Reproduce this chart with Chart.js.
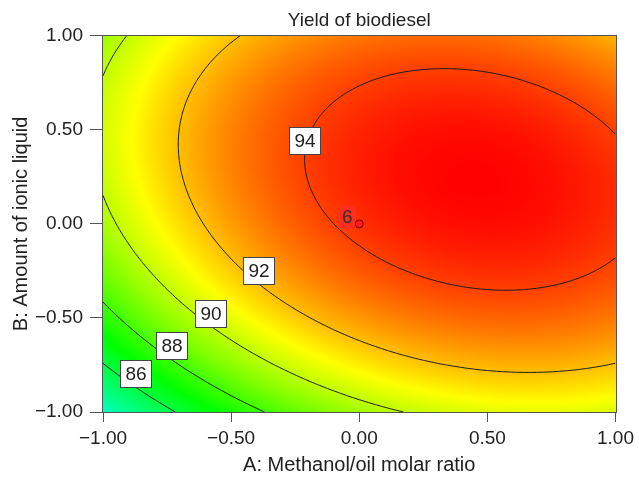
<!DOCTYPE html>
<html>
<head>
<meta charset="utf-8">
<script src="https://cdn.jsdelivr.net/npm/chart.js@4.4.1/dist/chart.umd.min.js"></script>
<style>
  html, body { margin: 0; background: #fff; }
</style>
</head>
<body>
<canvas id="rsm" width="639" height="483"></canvas>
<script>
/* ---- Data: quadratic model of yield (coded factors A, B) ---- */
const TERMS       = ['Intercept', 'A', 'B', 'AB', 'A²', 'B²'];
const COEFS       = [94.25, 2.30, 1.81, -0.94, -2.30, -2.93];
const LEVELS      = [86, 88, 90, 92, 94];
const AXIS_TICKS  = [-1, -0.5, 0, 0.5, 1];
const DESIGN_A    = [0];
const DESIGN_B    = [0];
const DESIGN_REPS = [6];

/* where each contour label sits (coded units) */
const LABEL_A = [-0.87, -0.73, -0.58, -0.39, -0.21];
const LABEL_B = [-0.80, -0.65, -0.48, -0.25, 0.44];

/* colour ramp: value -> rgb */
const RAMP_VAL = [83, 87, 91, 95];
const RAMP_RGB = [[0, 255, 255], [0, 255, 0], [255, 255, 0], [255, 0, 0]];

const FONT = 'Liberation Sans, Arial, Helvetica, sans-serif';
const INK  = '#222';

function yieldAt(a, b) {
  const [b0, bA, bB, bAB, bAA, bBB] = COEFS;
  return b0 + bA * a + bB * b + bAB * a * b + bAA * a * a + bBB * b * b;
}

function rampColor(v) {
  if (v <= RAMP_VAL[0]) return RAMP_RGB[0];
  for (let i = 1; i < RAMP_VAL.length; i++) {
    if (v <= RAMP_VAL[i]) {
      const t = (v - RAMP_VAL[i - 1]) / (RAMP_VAL[i] - RAMP_VAL[i - 1]);
      const c0 = RAMP_RGB[i - 1], c1 = RAMP_RGB[i];
      return [0, 1, 2].map(k => c0[k] + (c1[k] - c0[k]) * t);
    }
  }
  return RAMP_RGB[RAMP_RGB.length - 1];
}

const fmtTick = v => Number(v).toFixed(2).replace('-', '\u2212');

/* ---- marching squares, in data space ---- */
function contourSegments(level, nx, ny) {
  const gx = i => -1 + 2 * i / nx;
  const gy = j => -1 + 2 * j / ny;
  const val = [];
  for (let j = 0; j <= ny; j++) {
    val.push([]);
    for (let i = 0; i <= nx; i++) val[j].push(yieldAt(gx(i), gy(j)));
  }
  const segs = [];
  for (let j = 0; j < ny; j++) {
    for (let i = 0; i < nx; i++) {
      const c = [
        [gx(i), gy(j), val[j][i]],
        [gx(i + 1), gy(j), val[j][i + 1]],
        [gx(i + 1), gy(j + 1), val[j + 1][i + 1]],
        [gx(i), gy(j + 1), val[j + 1][i]]
      ];
      const pts = [];
      for (let e = 0; e < 4; e++) {
        const p = c[e], q = c[(e + 1) % 4];
        if ((p[2] - level) * (q[2] - level) < 0) {
          const t = (level - p[2]) / (q[2] - p[2]);
          pts.push([p[0] + (q[0] - p[0]) * t, p[1] + (q[1] - p[1]) * t]);
        }
      }
      if (pts.length >= 2) segs.push([pts[0], pts[1]]);
      if (pts.length === 4) segs.push([pts[2], pts[3]]);
    }
  }
  return segs;
}

/* ---- plugins ---- */
const surfacePlugin = {
  id: 'surface',
  beforeDatasetsDraw(chart) {
    const { ctx, chartArea: area, scales: { x, y } } = chart;
    const w = Math.round(area.right - area.left);
    const h = Math.round(area.bottom - area.top);
    const off = document.createElement('canvas');
    off.width = w; off.height = h;
    const octx = off.getContext('2d');
    const img = octx.createImageData(w, h);
    for (let py = 0; py < h; py++) {
      const b = y.getValueForPixel(area.top + py + 0.5);
      for (let px = 0; px < w; px++) {
        const a = x.getValueForPixel(area.left + px + 0.5);
        const col = rampColor(yieldAt(a, b));
        const k = (py * w + px) * 4;
        img.data[k] = col[0]; img.data[k + 1] = col[1]; img.data[k + 2] = col[2]; img.data[k + 3] = 255;
      }
    }
    octx.putImageData(img, 0, 0);
    ctx.drawImage(off, area.left, area.top);

    // contour lines
    ctx.save();
    ctx.beginPath();
    ctx.rect(area.left, area.top, area.right - area.left, area.bottom - area.top);
    ctx.clip();
    ctx.strokeStyle = '#1a1a1a';
    ctx.lineWidth = 1;
    LEVELS.forEach(level => {
      ctx.beginPath();
      contourSegments(level, 220, 160).forEach(([p, q]) => {
        ctx.moveTo(x.getPixelForValue(p[0]), y.getPixelForValue(p[1]));
        ctx.lineTo(x.getPixelForValue(q[0]), y.getPixelForValue(q[1]));
      });
      ctx.stroke();
    });

    // replicate count next to the design point
    DESIGN_REPS.forEach((n, i) => {
      const px = x.getPixelForValue(DESIGN_A[i]) - 12;
      const py = y.getPixelForValue(DESIGN_B[i]) - 7;
      ctx.fillStyle = 'rgb(255, 45, 30)';
      ctx.beginPath();
      ctx.roundRect(px - 9, py - 12, 18, 24, 7);
      ctx.fill();
      ctx.fillStyle = '#333';
      ctx.font = '19px ' + FONT;
      ctx.textAlign = 'center';
      ctx.textBaseline = 'middle';
      ctx.fillText(String(n), px, py + 1);
    });
    ctx.restore();
  },
  afterDatasetsDraw(chart) {
    const { ctx, chartArea: area, scales: { x, y } } = chart;
    ctx.save();
    // contour labels
    ctx.font = '19px ' + FONT;
    ctx.textAlign = 'center';
    ctx.textBaseline = 'middle';
    LEVELS.forEach((level, i) => {
      const cx = Math.round(x.getPixelForValue(LABEL_A[i]));
      const cy = Math.round(y.getPixelForValue(LABEL_B[i]));
      ctx.fillStyle = '#fff';
      ctx.fillRect(cx - 15.5, cy - 13.5, 31, 27);
      ctx.strokeStyle = '#444';
      ctx.lineWidth = 1;
      ctx.strokeRect(cx - 15.5, cy - 13.5, 31, 27);
      ctx.fillStyle = INK;
      ctx.fillText(String(level), cx, cy + 1);
    });
    // plot frame
    ctx.strokeStyle = '#555';
    ctx.lineWidth = 1;
    ctx.strokeRect(Math.round(area.left) - 0.5, Math.round(area.top) - 0.5,
      Math.round(area.right - area.left) + 1, Math.round(area.bottom - area.top) + 1);
    ctx.restore();
  }
};

/* ---- chart ---- */
const axisCommon = {
  type: 'linear',
  min: -1,
  max: 1,
  afterBuildTicks: s => { s.ticks = AXIS_TICKS.map(v => ({ value: v })); },
  border: { display: true, color: '#555', width: 1 },
  ticks: { callback: fmtTick, color: INK, font: { family: FONT, size: 19 } }
};

new Chart(document.getElementById('rsm'), {
  type: 'scatter',
  data: {
    datasets: [{
      label: 'Design points',
      data: DESIGN_A.map((a, i) => ({ x: a, y: DESIGN_B[i] })),
      pointRadius: 4,
      pointBackgroundColor: '#ff1a1a',
      pointBorderColor: '#7a0000',
      pointBorderWidth: 1
    }]
  },
  options: {
    responsive: false,
    animation: false,
    devicePixelRatio: 1,
    layout: { padding: { left: 0, right: 21, top: 0, bottom: 0 } },
    plugins: {
      legend: { display: false },
      tooltip: { enabled: false },
      title: {
        display: true,
        text: 'Yield of biodiesel',
        fullSize: false,
        color: INK,
        font: { family: FONT, size: 19, weight: 'normal' },
        padding: { top: 9, bottom: 4 }
      }
    },
    scales: {
      x: {
        ...axisCommon,
        afterFit: s => { s.height = 71; },
        grid: { drawOnChartArea: false, drawTicks: true, tickLength: 10, color: '#555' },
        ticks: { ...axisCommon.ticks, padding: 5, maxRotation: 0 },
        title: {
          display: true, text: 'A: Methanol/oil molar ratio', color: INK,
          font: { family: FONT, size: 20 }, padding: { top: 4, bottom: 6 }
        }
      },
      y: {
        ...axisCommon,
        afterFit: s => { s.width = 103; },
        grid: { drawOnChartArea: false, drawTicks: true, tickLength: 13, color: '#555' },
        ticks: { ...axisCommon.ticks, padding: 7 },
        title: {
          display: true, text: 'B: Amount of ionic liquid', color: INK,
          font: { family: FONT, size: 20 }, padding: { top: 9, bottom: 4 }
        }
      }
    }
  },
  plugins: [surfacePlugin]
});
</script>
</body>
</html>
